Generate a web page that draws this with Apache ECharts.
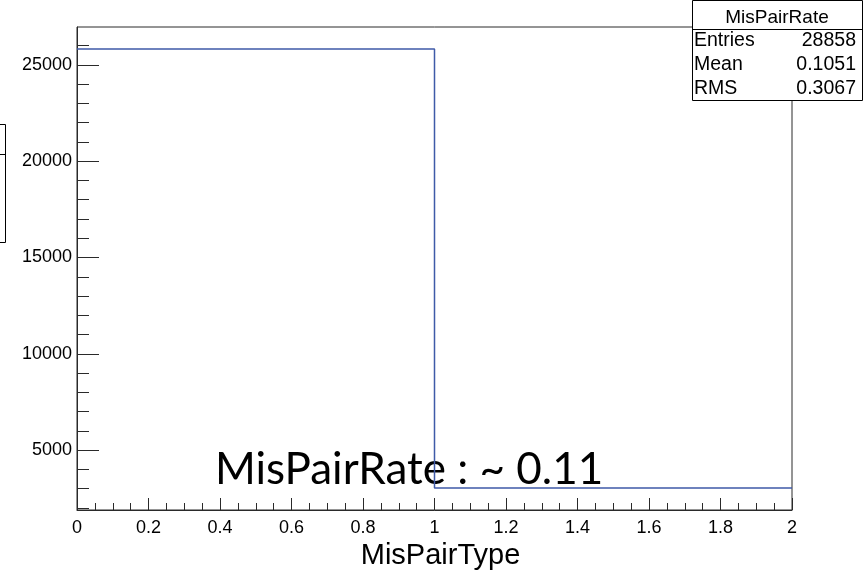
<!DOCTYPE html>
<html>
<head>
<meta charset="utf-8">
<script src="https://cdn.jsdelivr.net/npm/echarts@6/dist/echarts.min.js"></script>
<style>
  html, body { margin: 0; padding: 0; background: #fff; }
  #chart { width: 864px; height: 570px; }
</style>
</head>
<body>
<div id="chart"></div>
<script>
// Histogram of MisPairType: two unit-wide bins
const binEdges = [0, 1, 2];
const binCounts = [25825, 3033];

// Axis ranges and tick positions
const xRange = [0, 2];
const yRange = [1893, 26965];
const yMajorTicks = [5000, 10000, 15000, 20000, 25000];
const yMinorTicks = [2000, 3000, 4000, 6000, 7000, 8000, 9000, 11000, 12000, 13000, 14000,
                     16000, 17000, 18000, 19000, 21000, 22000, 23000, 24000, 26000];

// Statistics box contents
const statsTitle = 'MisPairRate';
const statsLabels = ['Entries', 'Mean', 'RMS'];
const statsValues = ['28858', '0.1051', '0.3067'];

const noteText = 'MisPairRate : ~ 0.11';
const xTitle = 'MisPairType';

// Step outline: each bin holds its count from its low edge to the next edge
const outline = binCounts.map((c, i) => [binEdges[i], c]);
outline.push([binEdges[binEdges.length - 1], binCounts[binCounts.length - 1]]);

const axisColor = '#2a2a2a';
const font = '"Liberation Sans", Arial, Helvetica, sans-serif';

const chart = echarts.init(document.getElementById('chart'), null, { renderer: 'canvas' });

const statsRowY = [42, 66, 90];
const statsChildren = [
  { type: 'rect', shape: { x: 692.5, y: 0.5, width: 170, height: 100 },
    style: { fill: '#fff', stroke: '#000', lineWidth: 1 } },
  { type: 'line', shape: { x1: 692.5, y1: 29.5, x2: 862.5, y2: 29.5 },
    style: { stroke: '#000', lineWidth: 1 } },
  { type: 'text', x: 777, y: 18,
    style: { text: statsTitle, font: '19px ' + font, fill: '#000', align: 'center', verticalAlign: 'middle' } }
];
statsLabels.forEach((lab, i) => {
  statsChildren.push({ type: 'text', x: 694, y: statsRowY[i] - 1,
    style: { text: lab, font: '19.5px ' + font, fill: '#000', align: 'left', verticalAlign: 'middle' } });
  statsChildren.push({ type: 'text', x: 856, y: statsRowY[i] - 1,
    style: { text: statsValues[i], font: '19.5px ' + font, fill: '#000', align: 'right', verticalAlign: 'middle' } });
});

chart.setOption({
  animation: false,
  backgroundColor: '#fff',
  grid: {
    left: 77, right: 72, top: 27, bottom: 60,
    outerBoundsMode: 'none', containLabel: false,
    show: true, borderColor: axisColor, borderWidth: 1, backgroundColor: 'transparent'
  },
  xAxis: {
    type: 'value', min: xRange[0], max: xRange[1], interval: 0.2,
    axisLine: { show: true, onZero: false, lineStyle: { color: axisColor, width: 1 } },
    axisTick: { show: true, inside: true, length: 12, lineStyle: { color: axisColor } },
    minorTick: { show: true, splitNumber: 4, length: 7, lineStyle: { color: axisColor } },
    splitLine: { show: false },
    minorSplitLine: { show: false },
    axisLabel: {
      margin: 9, color: '#000', fontFamily: font, fontSize: 18,
      formatter: v => String(Math.round(v * 10) / 10)
    },
    name: xTitle, nameLocation: 'middle', nameGap: 21,
    nameTextStyle: { color: '#000', fontFamily: font, fontSize: 29, padding: [0, 0, 0, 12] }
  },
  yAxis: [
    {
      type: 'value', min: yRange[0], max: yRange[1],
      axisLine: { show: true, onZero: false, lineStyle: { color: axisColor, width: 1 } },
      axisTick: { show: true, inside: true, length: 22, customValues: yMajorTicks, lineStyle: { color: axisColor } },
      axisLabel: {
        customValues: yMajorTicks, margin: 5, color: '#000', fontFamily: font, fontSize: 18,
        formatter: v => String(v)
      },
      splitLine: { show: false }
    },
    {
      type: 'value', min: yRange[0], max: yRange[1], position: 'left',
      axisLine: { show: false },
      axisTick: { show: true, inside: true, length: 12, customValues: yMinorTicks, lineStyle: { color: axisColor } },
      axisLabel: { show: false },
      splitLine: { show: false }
    }
  ],
  series: [{
    type: 'line', step: 'end', data: outline, symbol: 'none',
    lineStyle: { color: '#3f5aa8', width: 1.5 }, clip: false
  }],
  graphic: [
    { type: 'group', children: statsChildren },
    { type: 'rect', shape: { x: -1, y: 124.5, width: 6.5, height: 118 },
      style: { fill: '#fff', stroke: '#000', lineWidth: 1 } },
    { type: 'line', shape: { x1: -1, y1: 154.5, x2: 5.5, y2: 154.5 },
      style: { stroke: '#000', lineWidth: 1 } },
    { type: 'text', x: 215, y: 470,
      style: { text: noteText, font: '44px Lato, "Open Sans", sans-serif', fill: '#000', align: 'left', verticalAlign: 'middle' } }
  ]
});
</script>
</body>
</html>
